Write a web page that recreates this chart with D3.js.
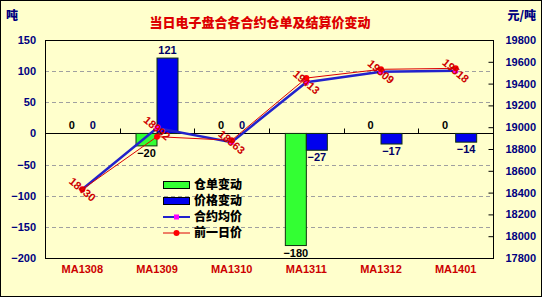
<!DOCTYPE html>
<html>
<head>
<meta charset="utf-8">
<script src="https://cdn.jsdelivr.net/npm/d3@7/dist/d3.min.js"></script>
<style>
  html, body { margin: 0; padding: 0; background: #FFFFCC; }
  svg { display: block; }
  text { font-family: "Liberation Sans", Arial, sans-serif; font-weight: bold; }
  .cjk { font-family: "Noto Sans CJK SC", sans-serif; font-weight: 900; }
</style>
</head>
<body>
<svg id="chart" width="542" height="297"></svg>
<script>
// Contracts shown on the category axis
const categories = ["MA1308", "MA1309", "MA1310", "MA1311", "MA1312", "MA1401"];
// Daily change of warehouse receipts (tons)
const receiptChange = [0, -20, 0, -180, 0, 0];
// Daily change of settlement price (yuan/ton)
const priceChange = [0, 121, 0, -27, -17, -14];
// Contract average price (yuan/ton)
const avgPrice = [18430, 18992, 18863, 19413, 19509, 19518];
// Previous day price (yuan/ton)
const prevPrice = [18430, 18913, 18880, 19451, 19531, 19540];
// Axis ticks
const leftTicks = [150, 100, 50, 0, -50, -100, -150, -200];
const rightTicks = [19800, 19600, 19400, 19200, 19000, 18800, 18600, 18400, 18200, 18000, 17800];
const barSeries = ["仓单变动", "价格变动"];
const lineSeries = ["合约均价", "前一日价"];

const svg = d3.select("#chart");
const W = 542, H = 297;
const plot = { left: 45, right: 493, top: 40, bottom: 258 };

// background and outer frame
svg.append("rect").attr("x", 0.5).attr("y", 0.5).attr("width", W - 1).attr("height", H - 1)
  .attr("fill", "#FFFFCC").attr("stroke", "#000").attr("stroke-width", 1);

const x = d3.scaleBand().domain(categories).range([plot.left, plot.right]);
const xSub = d3.scaleBand().domain(barSeries).range([-21, 21]);
const yL = d3.scaleLinear().domain([-200, 150]).range([plot.bottom, plot.top]);
const yR = d3.scaleLinear().domain([17800, 19800]).range([plot.bottom, plot.top]);

// dashed gridlines
svg.append("g").selectAll("line")
  .data(leftTicks.filter(t => t !== 0 && t !== 150 && t !== -200))
  .join("line")
  .attr("x1", plot.left).attr("x2", plot.right)
  .attr("y1", d => Math.round(yL(d)) + 0.5).attr("y2", d => Math.round(yL(d)) + 0.5)
  .attr("stroke", "#A0A0A0").attr("stroke-dasharray", "4,3").attr("stroke-width", 1);

// plot frame
svg.append("rect")
  .attr("x", plot.left + 0.5).attr("y", plot.top + 0.5)
  .attr("width", plot.right - plot.left).attr("height", plot.bottom - plot.top)
  .attr("fill", "none").attr("stroke", "#000").attr("stroke-width", 1);

// left axis labels
const leftAxis = d3.axisLeft(yL).tickValues(leftTicks).tickSize(0).tickPadding(9).tickFormat(d3.format("d"));
const gL = svg.append("g").attr("transform", `translate(${plot.left},0)`).call(leftAxis);
gL.select(".domain").remove();
gL.selectAll("text").attr("fill", "#000080").attr("font-size", 11)
  .attr("font-family", "Liberation Sans, Arial, sans-serif").attr("font-weight", "bold");

// right axis with inward ticks
const rightAxis = d3.axisRight(yR).tickValues(rightTicks).tickSizeInner(-5).tickSizeOuter(0)
  .tickPadding(12).tickFormat(d3.format("d"));
const gR = svg.append("g").attr("transform", `translate(${plot.right + 0.5},0)`).call(rightAxis);
gR.select(".domain").remove();
gR.selectAll("line").attr("stroke", "#000");
gR.selectAll("text").attr("fill", "#000080").attr("font-size", 11)
  .attr("font-family", "Liberation Sans, Arial, sans-serif").attr("font-weight", "bold");

// category axis on the zero line
const zeroY = Math.round(yL(0)) + 0.5;
svg.append("line").attr("x1", plot.left).attr("x2", plot.right)
  .attr("y1", zeroY).attr("y2", zeroY).attr("stroke", "#000");
svg.append("g").selectAll("line")
  .data(categories.slice(1))
  .join("line")
  .attr("x1", d => Math.round(x(d)) + 0.5).attr("x2", d => Math.round(x(d)) + 0.5)
  .attr("y1", zeroY).attr("y2", zeroY - 5).attr("stroke", "#000");

// category labels under the plot
svg.append("g").selectAll("text")
  .data(categories)
  .join("text")
  .attr("x", d => x(d) + x.bandwidth() / 2)
  .attr("y", 273)
  .attr("text-anchor", "middle")
  .attr("font-size", 11)
  .attr("fill", "#CC0000")
  .text(d => d);

// bars
const barColors = { "仓单变动": "#33FF33", "价格变动": "#0000EE" };
const labelColors = { "仓单变动": "#000000", "价格变动": "#000066" };
const barData = [];
categories.forEach((c, i) => {
  barData.push({ cat: c, series: "仓单变动", v: receiptChange[i] });
  barData.push({ cat: c, series: "价格变动", v: priceChange[i] });
});
const cx = d => x(d.cat) + x.bandwidth() / 2 + xSub(d.series);

svg.append("g").selectAll("rect")
  .data(barData.filter(d => d.v !== 0))
  .join("rect")
  .attr("x", d => cx(d))
  .attr("y", d => Math.min(yL(d.v), yL(0)))
  .attr("width", xSub.bandwidth())
  .attr("height", d => Math.abs(yL(d.v) - yL(0)))
  .attr("fill", d => barColors[d.series])
  .attr("stroke", "#103010").attr("stroke-width", 1);

// bar value labels
svg.append("g").selectAll("text")
  .data(barData)
  .join("text")
  .attr("x", d => cx(d) + xSub.bandwidth() / 2)
  .attr("y", d => d.v >= 0 ? yL(d.v) - 4 : yL(d.v) + 11)
  .attr("text-anchor", "middle")
  .attr("font-size", 11)
  .attr("fill", d => labelColors[d.series])
  .text(d => d.v < 0 ? "\u2212" + Math.abs(d.v) : d.v);

// price lines
const px = (d, i) => x(categories[i]) + x.bandwidth() / 2;
const priceLine = d3.line().x(px).y(d => yR(d));
svg.append("path").datum(avgPrice).attr("d", priceLine)
  .attr("fill", "none").attr("stroke", "#2222CC").attr("stroke-width", 2.5);
svg.append("path").datum(prevPrice).attr("d", priceLine)
  .attr("fill", "none").attr("stroke", "#DD0000").attr("stroke-width", 1);

svg.append("g").selectAll("rect")
  .data(avgPrice)
  .join("rect")
  .attr("x", (d, i) => px(d, i) - 2.5).attr("y", d => yR(d) - 2.5)
  .attr("width", 5).attr("height", 5).attr("fill", "#FF00FF");
svg.append("g").selectAll("circle")
  .data(prevPrice)
  .join("circle")
  .attr("cx", (d, i) => px(d, i)).attr("cy", d => yR(d))
  .attr("r", 3).attr("fill", "#FF0000");

// rotated price labels
svg.append("g").selectAll("text")
  .data(avgPrice)
  .join("text")
  .attr("transform", (d, i) => `translate(${px(d, i)},${yR(d)}) rotate(40)`)
  .attr("text-anchor", "middle")
  .attr("dy", "0.35em")
  .attr("font-size", 11)
  .attr("fill", "#CC0000")
  .text(d => d);

// legend
const legend = svg.append("g").attr("transform", "translate(163,185)");
const items = [
  { name: barSeries[0], type: "bar", color: barColors["仓单变动"] },
  { name: barSeries[1], type: "bar", color: barColors["价格变动"] },
  { name: lineSeries[0], type: "avg" },
  { name: lineSeries[1], type: "prev" }
];
items.forEach((it, i) => {
  const g = legend.append("g").attr("transform", `translate(0,${i * 16})`);
  if (it.type === "bar") {
    g.append("rect").attr("x", 0.5).attr("y", -3.5).attr("width", 26).attr("height", 7)
      .attr("fill", it.color).attr("stroke", "#000");
  } else if (it.type === "avg") {
    g.append("line").attr("x1", 0).attr("x2", 27).attr("y1", 0).attr("y2", 0)
      .attr("stroke", "#2222CC").attr("stroke-width", 2);
    g.append("rect").attr("x", 11).attr("y", -2.5).attr("width", 5).attr("height", 5).attr("fill", "#FF00FF");
  } else {
    g.append("line").attr("x1", 0).attr("x2", 27).attr("y1", 0).attr("y2", 0)
      .attr("stroke", "#DD0000").attr("stroke-width", 1);
    g.append("circle").attr("cx", 13.5).attr("cy", 0).attr("r", 3).attr("fill", "#FF0000");
  }
  g.append("text").attr("class", "cjk").attr("x", 31).attr("y", 0).attr("dy", "0.35em")
    .attr("font-size", 12).attr("fill", "#000").text(it.name);
});

// title and unit labels
svg.append("text").attr("class", "cjk").attr("x", 260).attr("y", 27)
  .attr("text-anchor", "middle").attr("font-size", 13).attr("fill", "#DD0000")
  .text("当日电子盘合各合约仓单及结算价变动");
svg.append("text").attr("class", "cjk").attr("x", 6).attr("y", 20)
  .attr("font-size", 12).attr("fill", "#000080").text("吨");
svg.append("text").attr("class", "cjk").attr("x", 536).attr("y", 20)
  .attr("text-anchor", "end").attr("font-size", 12).attr("fill", "#000080").text("元/吨");
</script>
</body>
</html>
